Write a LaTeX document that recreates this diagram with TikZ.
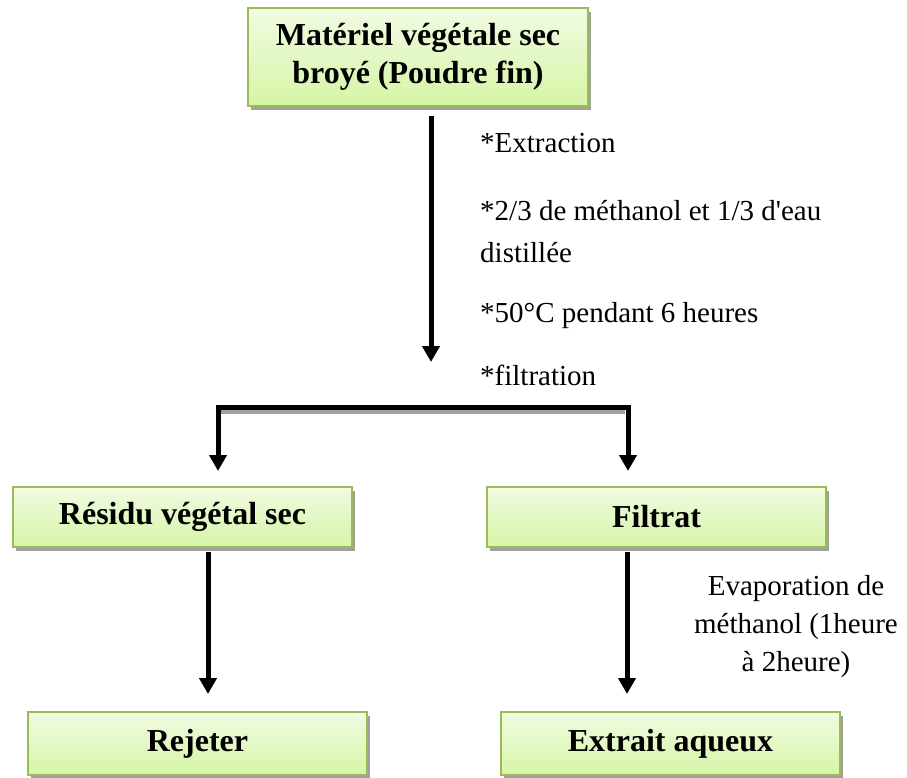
\documentclass[tikz,border=0pt]{standalone}
\usepackage{fontspec}
\setmainfont{Liberation Serif}
\usepackage{xcolor}
\usepackage{tikz}
\usetikzlibrary{arrows.meta, positioning, calc, shadows}
\definecolor{boxborder}{HTML}{9BBB59}
\definecolor{boxtop}{HTML}{F1FBE2}
\definecolor{boxbottom}{HTML}{D6F5A6}
\definecolor{shadowgray}{HTML}{A0A0A0}

\begin{document}
\begin{tikzpicture}[x=1pt, y=-1pt,
    stagebox/.style={draw=boxborder, line width=2pt, top color=boxtop, bottom color=boxbottom,
        drop shadow={shadow xshift=3pt, shadow yshift=-4pt, fill=shadowgray, opacity=1},
        inner sep=0pt, minimum width=339pt, align=center,
        font=\fontsize{32}{38}\selectfont\bfseries},
    flow/.style={line width=5pt, -{Triangle[length=16pt, width=17pt]}},
    note/.style={font=\fontsize{29}{38}\selectfont, inner sep=0pt}]
    \useasboundingbox (0,0) rectangle (907,778);

    % ── boxes ────────────────────────────────────────────────────────
    \node[stagebox, minimum width=340pt, minimum height=98pt] (plant) at (418,57)
        {Matériel végétale sec\\broyé (Poudre fin)};
    \node[stagebox, minimum height=60pt] (resid) at (182.5,517) {Résidu végétal sec};
    \node[stagebox, minimum height=60pt] (filtr) at (656.5,517) {Filtrat};
    \node[stagebox, minimum height=63pt] (reject) at (197.5,743.5) {Rejeter};
    \node[stagebox, minimum height=63pt] (extract) at (670.5,743.5) {Extrait aqueux};

    % ── extraction step ──────────────────────────────────────────────
    \coordinate (extrEnd) at (431,362);
    \draw[flow, shorten <=9pt] (plant.south -| extrEnd) -- (extrEnd);
    \node[note, anchor=base west] (stepA) at (480,153) {*Extraction};
    % base of a two-line node is its last line
    \node[note, anchor=base west, align=left] (stepB) at (480,262)
        {*2/3 de méthanol et 1/3 d\textquotesingle eau\\[4pt]distillée};
    \node[note, anchor=base west] (stepC) at (480,322) {*50°C pendant 6 heures};
    \node[note, anchor=base west] (stepD) at (480,385) {*filtration};

    % ── split ────────────────────────────────────────────────────────
    \coordinate (forkL) at (218,407);
    \coordinate (forkR) at (628,407);
    \draw[shadowgray, line width=4pt] ($(forkL)+(3,5)$) -- ($(forkR)+(-3,5)$);
    \draw[flow, {Triangle[length=16pt, width=17pt]}-{Triangle[length=16pt, width=17pt]},
        shorten <=15pt, shorten >=15pt]
        (resid.north -| forkL) -- (forkL) -- (forkR) -- (filtr.north -| forkR);

    % ── last step ────────────────────────────────────────────────────
    \coordinate (lowL) at (208,600);
    \coordinate (lowR) at (627,600);
    \draw[flow, shorten <=4pt, shorten >=17pt] (resid.south -| lowL) -- (reject.north -| lowL);
    \draw[flow, shorten <=4pt, shorten >=17pt] (filtr.south -| lowR) -- (extract.north -| lowR);
    \node[note, align=center] (evap) at (796,627)
        {Evaporation de\\méthanol (1heure\\à 2heure)};
\end{tikzpicture}
\end{document}
